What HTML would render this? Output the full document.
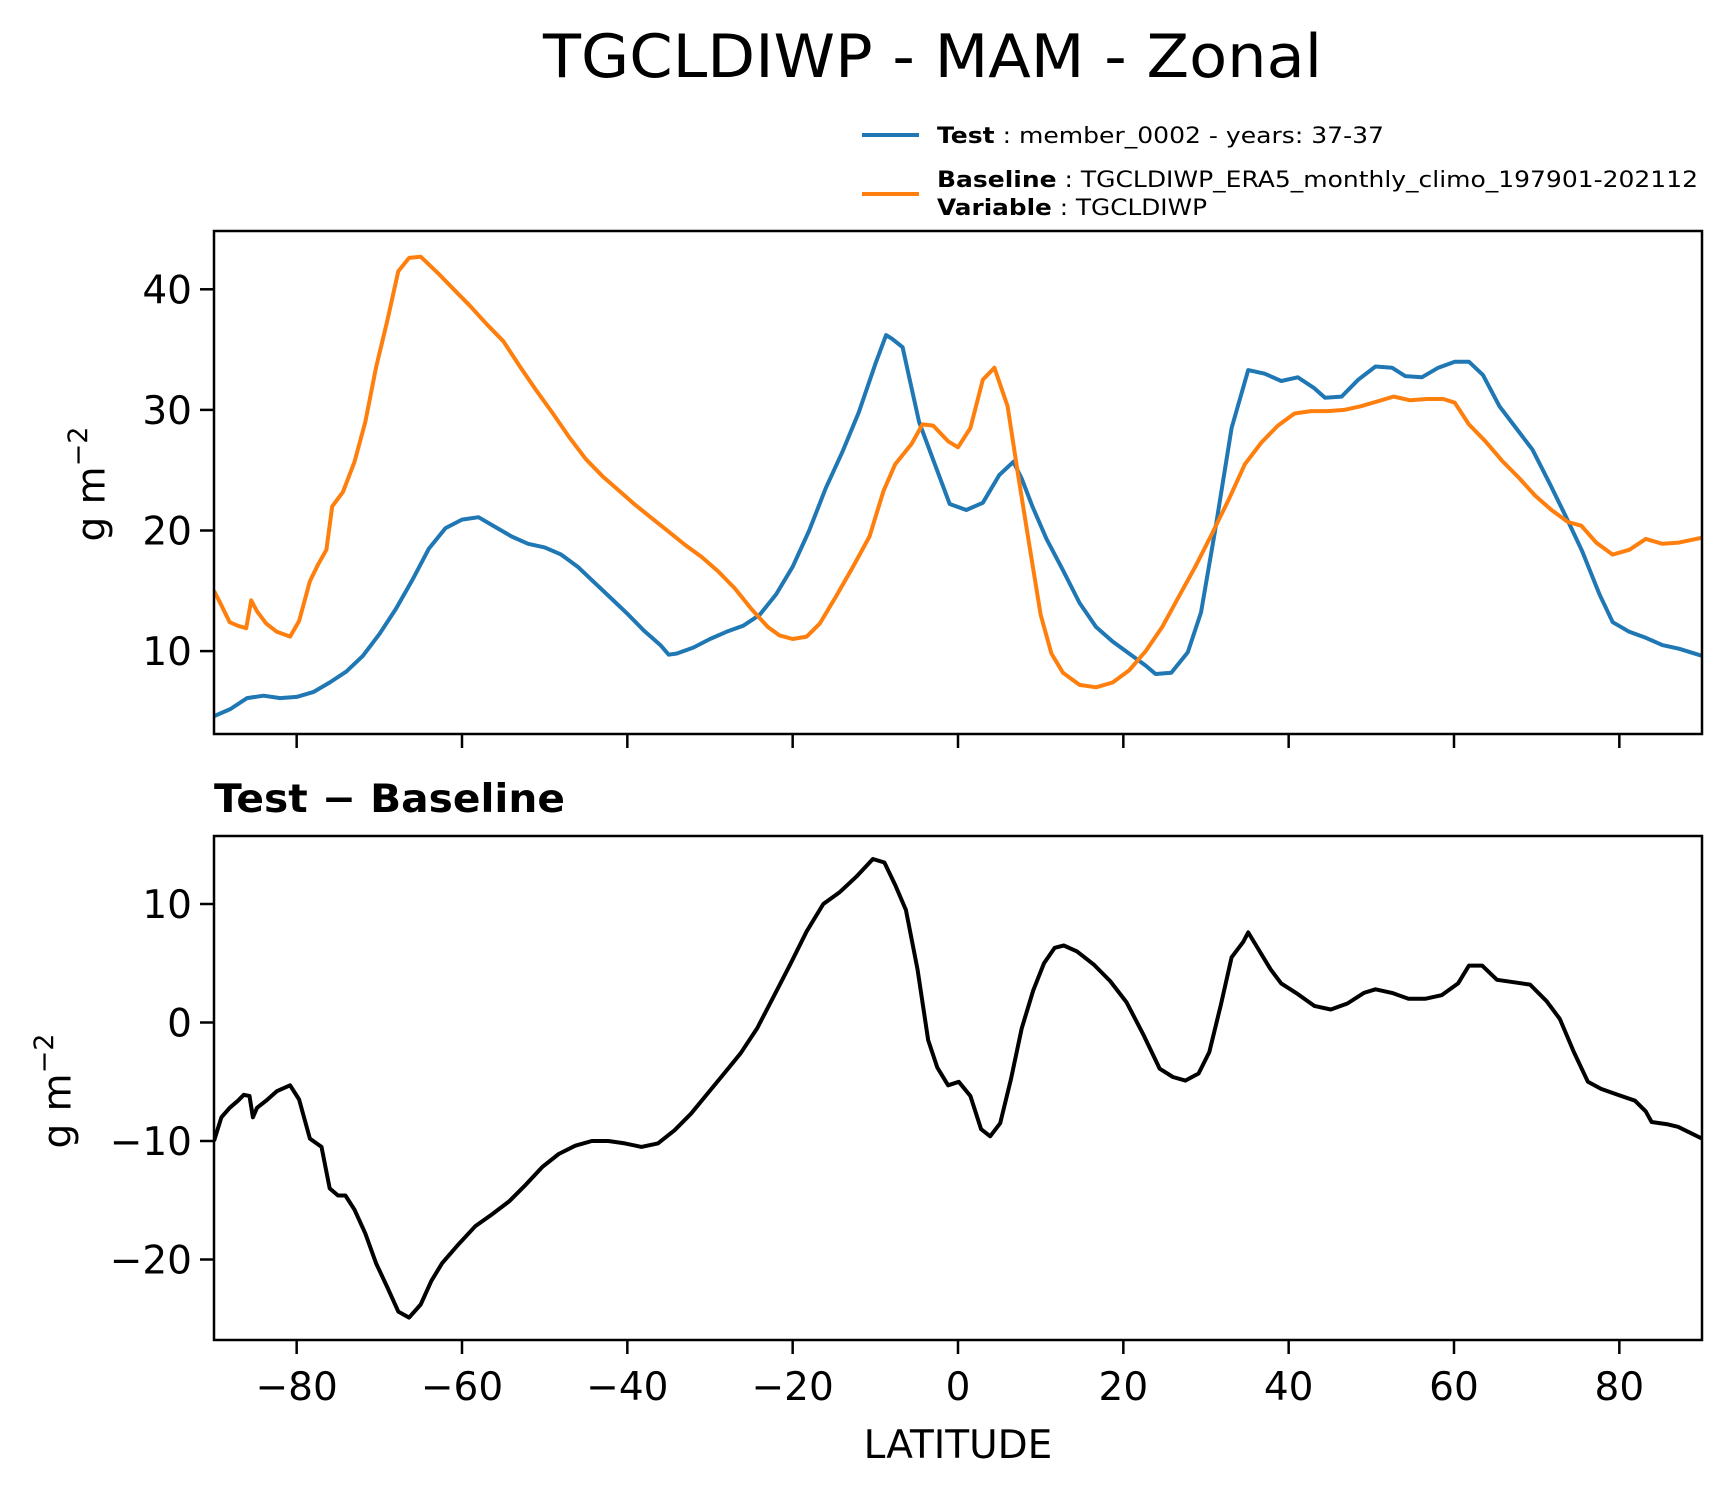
<!DOCTYPE html>
<html><head><meta charset="utf-8"><style>
html,body{margin:0;padding:0;background:#fff}
svg{display:block}
text{font-family:"DejaVu Sans","Liberation Sans",sans-serif;fill:#000}
</style></head><body>
<svg id="chart" width="1731" height="1496" viewBox="0 0 1731 1496" xmlns="http://www.w3.org/2000/svg">
<text x="543" y="77" font-size="60" textLength="779" lengthAdjust="spacingAndGlyphs">TGCLDIWP - MAM - Zonal</text>
<g>
<line x1="862" y1="135" x2="919" y2="135" stroke="#1f77b4" stroke-width="4"/>
<text x="937" y="143" font-size="22" textLength="447" lengthAdjust="spacingAndGlyphs"><tspan font-weight="bold">Test</tspan> : member_0002 - years: 37-37</text>
<line x1="862" y1="194" x2="919" y2="194" stroke="#ff7f0e" stroke-width="4"/>
<text x="937" y="187" font-size="22" textLength="761" lengthAdjust="spacingAndGlyphs"><tspan font-weight="bold">Baseline</tspan> : TGCLDIWP_ERA5_monthly_climo_197901-202112</text>
<text x="937" y="215" font-size="22" textLength="270" lengthAdjust="spacingAndGlyphs"><tspan font-weight="bold">Variable</tspan> : TGCLDIWP</text>
</g>
<text x="214" y="812" font-size="39" font-weight="bold" textLength="351" lengthAdjust="spacingAndGlyphs">Test − Baseline</text>
<text x="958" y="1458" font-size="39" text-anchor="middle">LATITUDE</text>
<text transform="translate(92,484) rotate(-90)" font-size="39" text-anchor="middle" dominant-baseline="central">g m<tspan dy="-14" font-size="27">−2</tspan></text>
<text transform="translate(58,1091) rotate(-90)" font-size="39" text-anchor="middle" dominant-baseline="central">g m<tspan dy="-14" font-size="27">−2</tspan></text>
<g id="plots"></g>
</svg>
<script>
const blueLat=[-90,-88,-86,-84,-82,-80,-78,-76,-74,-72,-70,-68,-66,-64,-62,-60,-58,-56,-54,-52,-50,-48,-46,-44,-42,-40,-38,-36,-35,-34,-32,-30,-28,-26,-24,-22,-20,-18,-16,-14,-12,-10,-8.7,-8,-6.7,-6,-4.7,-2.7,-1,1,3,5,6.7,7.7,9,10.7,12.7,14.7,16.7,18.7,20.7,22.7,23.9,25.8,27.8,29.4,31.1,33.1,35.1,37.1,39.1,41.1,43.1,44.4,46.4,48.4,50.5,52.5,54.1,56.1,58.1,60.1,61.8,63.5,65.5,67.5,69.5,71.5,73.5,75.5,77.6,79.2,81.2,83.2,85.2,87.2,90];
const blueVal=[4.6,5.2,6.1,6.3,6.1,6.2,6.6,7.4,8.3,9.6,11.4,13.5,15.9,18.5,20.2,20.9,21.1,20.3,19.5,18.9,18.6,18.0,17.0,15.7,14.4,13.1,11.7,10.5,9.7,9.8,10.3,11.0,11.6,12.1,13.0,14.7,17.0,20.0,23.5,26.5,29.8,33.8,36.2,35.9,35.2,33,29,25.3,22.2,21.7,22.3,24.6,25.7,24.3,22,19.3,16.7,14.0,12.0,10.8,9.8,8.8,8.1,8.2,9.9,13.2,20,28.5,33.3,33.0,32.4,32.7,31.8,31.0,31.1,32.5,33.6,33.5,32.8,32.7,33.5,34.0,34.0,32.9,30.3,28.5,26.7,24.0,21.2,18.3,14.7,12.4,11.6,11.1,10.5,10.2,9.6];
const orangeLat=[-90,-89.1,-88.1,-87.1,-86.1,-85.5,-84.8,-83.7,-82.4,-80.8,-79.7,-78.4,-77.4,-76.4,-75.7,-74.4,-73,-71.7,-70.4,-69,-67.7,-66.4,-65,-63,-61,-59,-57,-55,-53,-51,-49,-47,-45,-43,-41,-39,-37,-35,-33,-31,-29,-27,-25,-23,-21.6,-20,-18.3,-16.7,-14.7,-12.7,-10.7,-9,-7.6,-5.6,-4.3,-3,-1.2,0,1.5,3,4.4,6,7.3,8.7,10,11.3,12.7,14.7,16.7,18.7,20.7,22.7,24.7,26.7,28.7,30.7,32.7,34.7,36.7,38.7,40.7,42.7,44.7,46.7,48.7,50.7,52.7,54.7,56.7,58.7,60.1,61.8,63.8,65.8,67.8,69.8,71.8,73.8,75.4,77.2,79.2,81.2,83.2,85.2,87.2,90];
const orangeVal=[15.0,13.8,12.4,12.1,11.9,14.2,13.3,12.3,11.6,11.2,12.5,15.8,17.2,18.4,22.0,23.2,25.7,29.0,33.5,37.5,41.5,42.6,42.7,41.4,40.0,38.6,37.1,35.7,33.6,31.6,29.7,27.7,25.9,24.5,23.3,22.1,21.0,19.9,18.8,17.8,16.6,15.2,13.5,12.0,11.3,11.0,11.2,12.3,14.6,17.0,19.5,23.3,25.5,27.2,28.8,28.7,27.4,26.9,28.5,32.5,33.5,30.3,24.5,18.5,13.0,9.8,8.2,7.2,7.0,7.4,8.4,10.0,12.0,14.5,17.0,19.7,22.5,25.5,27.3,28.7,29.7,29.9,29.9,30.0,30.3,30.7,31.1,30.8,30.9,30.9,30.6,28.8,27.4,25.8,24.4,22.9,21.7,20.7,20.4,19.0,18.0,18.4,19.3,18.9,19.0,19.4];
const diffLat=[-90,-89.1,-88.1,-87.1,-86.4,-85.7,-85.3,-84.8,-83.7,-82.4,-80.8,-79.7,-78.4,-77.0,-76.0,-75.0,-74.1,-73.0,-71.7,-70.4,-69.0,-67.7,-66.4,-65.0,-63.7,-62.4,-60.4,-58.4,-56.4,-54.3,-52.3,-50.3,-48.3,-46.3,-44.3,-42.3,-40.3,-38.3,-36.3,-34.3,-32.3,-30.3,-28.3,-26.3,-24.3,-22.3,-20.3,-18.3,-16.3,-14.3,-12.3,-10.3,-8.9,-7.6,-6.3,-4.9,-3.6,-2.5,-1.2,0.1,1.5,2.8,3.9,5.1,6.4,7.7,9.1,10.4,11.7,12.8,14.4,16.4,18.4,20.4,22.4,24.4,26.0,27.5,29.1,30.4,31.8,33.1,34.5,35.1,36.5,37.8,39.1,41.1,43.1,45.1,47.1,49.1,50.5,52.5,54.5,56.5,58.5,60.5,61.8,63.4,65.2,67.2,69.2,71.2,72.8,74.5,76.2,77.8,79.8,81.9,83.2,83.9,85.9,87.1,90];
const diffVal=[-10,-8,-7.2,-6.6,-6.1,-6.2,-8,-7.2,-6.6,-5.8,-5.3,-6.5,-9.8,-10.5,-14,-14.6,-14.6,-15.8,-17.8,-20.3,-22.4,-24.4,-24.9,-23.8,-21.8,-20.3,-18.7,-17.2,-16.2,-15.1,-13.7,-12.2,-11.1,-10.4,-10.0,-10.0,-10.2,-10.5,-10.2,-9.1,-7.7,-6.0,-4.3,-2.6,-0.5,2.2,4.9,7.7,10.0,11.0,12.3,13.8,13.5,11.6,9.5,4.5,-1.5,-3.8,-5.3,-5.0,-6.2,-9.0,-9.6,-8.5,-4.8,-0.5,2.7,5.0,6.3,6.5,6.0,4.9,3.5,1.7,-1.0,-3.9,-4.6,-4.9,-4.3,-2.5,1.5,5.5,6.8,7.6,6.0,4.5,3.3,2.4,1.4,1.1,1.6,2.5,2.8,2.5,2.0,2.0,2.3,3.3,4.8,4.8,3.6,3.4,3.2,1.8,0.3,-2.5,-5.0,-5.6,-6.1,-6.6,-7.5,-8.4,-8.6,-8.8,-9.8];
const xTicks=[-80,-60,-40,-20,0,20,40,60,80];
const xTickLabels=["−80","−60","−40","−20","0","20","40","60","80"];
const topYTicks=[10,20,30,40];
const topYTickLabels=["10","20","30","40"];
const botYTicks=[-20,-10,0,10];
const botYTickLabels=["−20","−10","0","10"];

const NS="http://www.w3.org/2000/svg";
const L=214,R=1702;
const X=v=>L+(v+90)/180*(R-L);
const topAx={t:231,b:734,y:v=>289.3-(v-40)*12.06};
const botAx={t:836,b:1340,y:v=>1022.5-v*11.85};
const g=document.getElementById('plots');
function el(tag,attrs){const e=document.createElementNS(NS,tag);for(const k in attrs)e.setAttribute(k,attrs[k]);g.appendChild(e);return e;}
function line(lat,val,ax,color,name){
  let d='';
  for(let i=0;i<lat.length;i++){d+=(i?'L':'M')+X(lat[i]).toFixed(1)+' '+ax.y(val[i]).toFixed(1);}
  const p=el('path',{d:d,fill:'none',stroke:color,'stroke-width':4,'stroke-linejoin':'round','clip-path':'url(#'+ax.clip+')'});
  
  
}
const defs=el('defs',{});
[['c1',topAx],['c2',botAx]].forEach(([id,ax])=>{ax.clip=id;const c=document.createElementNS(NS,'clipPath');c.setAttribute('id',id);const r=document.createElementNS(NS,'rect');r.setAttribute('x',L);r.setAttribute('y',ax.t);r.setAttribute('width',R-L);r.setAttribute('height',ax.b-ax.t);c.appendChild(r);defs.appendChild(c);});
line(blueLat,blueVal,topAx,'#1f77b4','test-series-line');
line(orangeLat,orangeVal,topAx,'#ff7f0e','baseline-series-line');
line(diffLat,diffVal,botAx,'#000','difference-line');
function axes(ax,yt,ytl,name,labels){
  const f=el('rect',{x:L,y:ax.t,width:R-L,height:ax.b-ax.t,fill:'none',stroke:'#000','stroke-width':2.5});
  
  
  xTicks.forEach((v,i)=>{
    const t=el('line',{x1:X(v),x2:X(v),y1:ax.b,y2:ax.b+14,stroke:'#000','stroke-width':2.5});
    
    
    if(labels){
      const tx=el('text',{x:X(v),y:1400,'font-size':39,'text-anchor':'middle'});
      tx.textContent=xTickLabels[i];
      
      
    }
  });
  yt.forEach((v,i)=>{
    const t=el('line',{x1:L-14,x2:L,y1:ax.y(v),y2:ax.y(v),stroke:'#000','stroke-width':2.5});
    
    
    const tx=el('text',{x:L-22,y:ax.y(v)+14,'font-size':39,'text-anchor':'end'});
    tx.textContent=ytl[i];
    
    
  });
}
axes(topAx,topYTicks,topYTickLabels,'top-axes',false);
axes(botAx,botYTicks,botYTickLabels,'bottom-axes',true);
</script>
</body></html>
